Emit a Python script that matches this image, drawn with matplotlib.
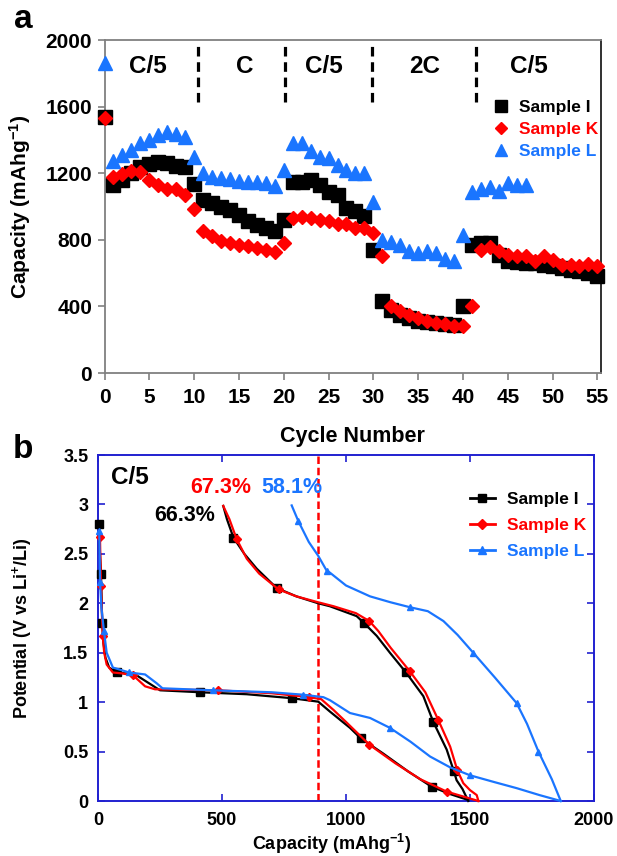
import numpy as np
import matplotlib
matplotlib.use('Agg')
import matplotlib.pyplot as plt
from matplotlib.lines import Line2D

plt.rcParams['font.family'] = ['Liberation Sans', 'DejaVu Sans']
plt.rcParams['font.weight'] = 'bold'
plt.rcParams['axes.labelweight'] = 'bold'
plt.rcParams['mathtext.fontset'] = 'custom'
plt.rcParams['mathtext.rm'] = 'Liberation Sans:bold'
plt.rcParams['mathtext.bf'] = 'Liberation Sans:bold'
plt.rcParams['mathtext.it'] = 'Liberation Sans:bold'

nan = np.nan
# ---------------- Panel a data ----------------
cycles = np.arange(0, 56)
cap_I = [1540,
         1130, 1160, 1200, 1240, 1255, 1265, 1260, 1245, 1240, 1135,
         1040, 1020, 1000, 980, 950, 910, 890, 870, 850, 920,
         1150, 1150, 1160, 1130, 1090, 1070, 990, 970, 940, 740,
         430, 380, 350, 330, 315, 305, 300, 295, 290, 405,
         770, 780, 780, 710, 670, 665, 660, 660, 650, 640, 630, 620, 610, 600, 580]
cap_K = [1530,
         1180, 1195, 1215, 1205, 1160, 1130, 1105, 1105, 1070, 985,
         850, 820, 790, 780, 770, 760, 750, 740, 725, 780,
         930, 935, 930, 920, 910, 895, 895, 870, 870, 840,
         700, 400, 370, 350, 330, 310, 300, 295, 285, 285,
         400, 740, 755, 730, 710, 700, 700, 670, 700, 680, 650, 650, 640, 655, 640]
cap_L = [1860,
         1275, 1310, 1340, 1380, 1400, 1430, 1450, 1435, 1420, 1295,
         1200, 1180, 1170, 1165, 1155, 1150, 1145, 1140, 1125, 1220,
         1380, 1380, 1335, 1300, 1290, 1250, 1220, 1200, 1200, 1025,
         800, 785, 770, 735, 720, 730, 720, 685, 670, 830,
         1090, 1105, 1120, 1095, 1140, 1130, 1130] + [nan] * 8
rate_labels = ['C/5', 'C', 'C/5', '2C', 'C/5']
rate_label_pos = [4.8, 15.6, 24.5, 35.7, 47.3]
rate_boundaries = [10.4, 20.1, 29.9, 41.5]

# ---------------- Panel b data ----------------
I_dis_x = [5, 8, 12, 15, 17, 22, 30, 45, 75, 150, 200, 250, 411, 600, 781, 888, 935, 1016, 1059, 1150, 1250, 1345, 1420, 1493]
I_dis_y = [2.80, 2.50, 2.30, 2.00, 1.80, 1.60, 1.45, 1.35, 1.30, 1.28, 1.20, 1.12, 1.10, 1.08, 1.04, 1.005, 0.905, 0.74, 0.635, 0.48, 0.30, 0.145, 0.07, 0.01]
I_dis_m = [0, 2, 4, 8, 12, 14, 18, 21]
I_chg_x = [1493, 1470, 1446, 1435, 1406, 1352, 1312, 1242, 1177, 1124, 1073, 1043, 935, 888, 800, 720, 640, 590, 546, 520, 505]
I_chg_y = [0.0, 0.12, 0.21, 0.30, 0.52, 0.80, 1.06, 1.30, 1.50, 1.67, 1.80, 1.87, 1.97, 2.00, 2.07, 2.155, 2.35, 2.50, 2.665, 2.85, 2.985]
I_chg_m = [3, 5, 7, 10, 15, 18]

K_dis_x = [8, 10, 12, 16, 19, 25, 35, 60, 100, 142, 190, 230, 483, 700, 852, 900, 950, 1000, 1094, 1200, 1300, 1406, 1480, 1534]
K_dis_y = [2.67, 2.40, 2.17, 1.90, 1.67, 1.50, 1.38, 1.30, 1.29, 1.27, 1.16, 1.13, 1.12, 1.09, 1.05, 1.03, 0.92, 0.80, 0.57, 0.38, 0.22, 0.095, 0.04, 0.0]
K_dis_m = [0, 2, 4, 9, 12, 14, 18, 21]
K_chg_x = [1534, 1527, 1500, 1473, 1449, 1420, 1372, 1320, 1258, 1180, 1130, 1094, 1040, 950, 888, 800, 728, 650, 600, 559, 530, 505]
K_chg_y = [0.0, 0.06, 0.11, 0.18, 0.31, 0.55, 0.82, 1.10, 1.31, 1.55, 1.72, 1.82, 1.90, 1.97, 2.01, 2.07, 2.14, 2.30, 2.45, 2.65, 2.85, 2.985]
K_chg_m = [4, 6, 8, 11, 16, 19]

L_dis_x = [5, 7, 8, 14, 24, 35, 60, 126, 190, 237, 260, 462, 700, 828, 909, 935, 1016, 1097, 1177, 1260, 1339, 1420, 1500, 1600, 1688, 1780, 1866]
L_dis_y = [2.73, 2.45, 2.22, 1.95, 1.72, 1.50, 1.35, 1.30, 1.28, 1.19, 1.14, 1.12, 1.10, 1.075, 1.05, 1.02, 0.89, 0.84, 0.74, 0.60, 0.45, 0.34, 0.26, 0.19, 0.13, 0.06, 0.0]
L_dis_m = [0, 2, 4, 7, 11, 13, 18, 22]
L_chg_x = [1866, 1830, 1776, 1730, 1688, 1600, 1513, 1450, 1393, 1330, 1258, 1180, 1097, 1000, 935, 922, 888, 850, 808, 781]
L_chg_y = [0.0, 0.22, 0.50, 0.78, 0.99, 1.25, 1.50, 1.68, 1.82, 1.92, 1.96, 2.01, 2.07, 2.18, 2.31, 2.33, 2.48, 2.62, 2.83, 2.99]
L_chg_m = [2, 4, 6, 10, 15, 18]

ref_capacity = 888
ce_labels = ['66.3%', '67.3%', '58.1%']

c_I, c_K, c_L = 'black', '#ff0000', '#1a75ff'
blue_ax = '#2020d0'
gray = '#808080'

fig = plt.figure(figsize=(6.17, 8.56), dpi=100)

# ================= Panel a =================
axa = fig.add_axes([104.5 / 617, 1 - 373 / 856, 496.5 / 617, 333 / 856])
axa.plot(cycles, cap_I, 's', color=c_I, ms=10.5, mec=c_I, clip_on=False, zorder=3, label='Sample I')
axa.plot(cycles, cap_K, 'D', color=c_K, ms=7.0, mec=c_K, clip_on=False, zorder=4, label='Sample K')
axa.plot(cycles, cap_L, '^', color=c_L, ms=9.5, mec=c_L, clip_on=False, zorder=5, label='Sample L')
axa.set_xlim(0, 55.4)
axa.set_ylim(0, 2000)
axa.set_xticks(np.arange(0, 56, 5))
axa.set_yticks(np.arange(0, 2001, 400))
for s in ['left', 'bottom', 'top']:
    axa.spines[s].set_color(gray)
    axa.spines[s].set_linewidth(1.3)
axa.spines['right'].set_color('#202020')
axa.spines['right'].set_linewidth(1.3)
axa.tick_params(direction='out', length=5, width=1.2, color=gray, labelsize=15, pad=4)
axa.tick_params(axis='x', pad=6)
axa.set_xlabel('Cycle Number', fontsize=15.5, fontweight='bold')
axa.xaxis.set_label_coords(0.5, -0.16)
axa.set_ylabel('Capacity (mAhg$^{-1}$)', fontsize=15, fontweight='bold')
axa.yaxis.set_label_coords(-0.145, 0.5)

for b in rate_boundaries:
    axa.plot([b, b], [1630, 1985], color='black', lw=2.3, ls=(0, (3.0, 1.8)), zorder=2)
for lab, xp in zip(rate_labels, rate_label_pos):
    axa.text(xp, 1840, lab, ha='center', va='center', fontsize=17.5, fontweight='bold')

h_a = [Line2D([], [], ls='none', marker='s', color=c_I, ms=8),
       Line2D([], [], ls='none', marker='D', color=c_K, ms=6),
       Line2D([], [], ls='none', marker='^', color=c_L, ms=8)]
axa.legend(h_a, ['Sample I', 'Sample K', 'Sample L'], loc='upper left',
           bbox_to_anchor=(0.765, 0.845), frameon=False, borderpad=0,
           handlelength=0.9, handletextpad=0.6, labelspacing=0.38,
           labelcolor=[c_I, c_K, c_L], prop={'weight': 'bold', 'size': 12.5})
fig.text(23 / 617, 1 - 20 / 856, 'a', fontsize=24, fontweight='bold', ha='center', va='center')

# ================= Panel b =================
axb = fig.add_axes([98 / 617, 1 - 801 / 856, 496 / 617, 346 / 856])
axb.axvline(ref_capacity, color='#ff0000', lw=1.8, ls=(0, (3, 1.5)), zorder=1)
for xs, ys, mi, col, mk, ms in [
        (I_dis_x, I_dis_y, I_dis_m, c_I, 's', 5.5), (I_chg_x, I_chg_y, I_chg_m, c_I, 's', 5.5),
        (K_dis_x, K_dis_y, K_dis_m, c_K, 'D', 4.2), (K_chg_x, K_chg_y, K_chg_m, c_K, 'D', 4.2),
        (L_dis_x, L_dis_y, L_dis_m, c_L, '^', 5.0), (L_chg_x, L_chg_y, L_chg_m, c_L, '^', 5.0)]:
    axb.plot(xs, ys, color=col, lw=1.6, marker=mk, ms=ms, markevery=mi, clip_on=False, zorder=3)
axb.set_xlim(0, 2000)
axb.set_ylim(0, 3.5)
axb.set_xticks(np.arange(0, 2001, 500))
axb.set_yticks(np.arange(0, 3.51, 0.5))
axb.set_yticklabels(['0', '0.5', '1', '1.5', '2', '2.5', '3', '3.5'])
for s in axb.spines.values():
    s.set_color(blue_ax)
    s.set_linewidth(1.4)
axb.tick_params(direction='in', length=5, width=1.2, color=blue_ax, labelsize=13,
                top=True, right=True, pad=7)
axb.tick_params(axis='x', pad=8)
axb.set_xlabel('Capacity (mAhg$^{-1}$)', fontsize=13, fontweight='bold')
axb.xaxis.set_label_coords(0.47, -0.088)
axb.set_ylabel('Potential (V vs Li$^{+}$/Li)', fontsize=13, fontweight='bold')
axb.yaxis.set_label_coords(-0.13, 0.5)

axb.text(129, 3.27, 'C/5', ha='center', va='center', fontsize=17.5, fontweight='bold')
axb.text(350, 2.89, ce_labels[0], ha='center', va='center', fontsize=15.5, fontweight='bold', color=c_I)
axb.text(496, 3.17, ce_labels[1], ha='center', va='center', fontsize=15.5, fontweight='bold', color=c_K)
axb.text(783, 3.17, ce_labels[2], ha='center', va='center', fontsize=15.5, fontweight='bold', color=c_L)

h_b = [Line2D([], [], color=c_I, lw=2, marker='s', ms=6),
       Line2D([], [], color=c_K, lw=2, marker='D', ms=5),
       Line2D([], [], color=c_L, lw=2, marker='^', ms=6)]
axb.legend(h_b, ['Sample I', 'Sample K', 'Sample L'], loc='upper left',
           bbox_to_anchor=(0.733, 0.918), frameon=False, borderpad=0,
           handlelength=1.4, handletextpad=0.7, labelspacing=0.62,
           labelcolor=[c_I, c_K, c_L], prop={'weight': 'bold', 'size': 12.5})
fig.text(23 / 617, 1 - 449 / 856, 'b', fontsize=24, fontweight='bold', ha='center', va='center')

fig.savefig('out.png', dpi=100)
